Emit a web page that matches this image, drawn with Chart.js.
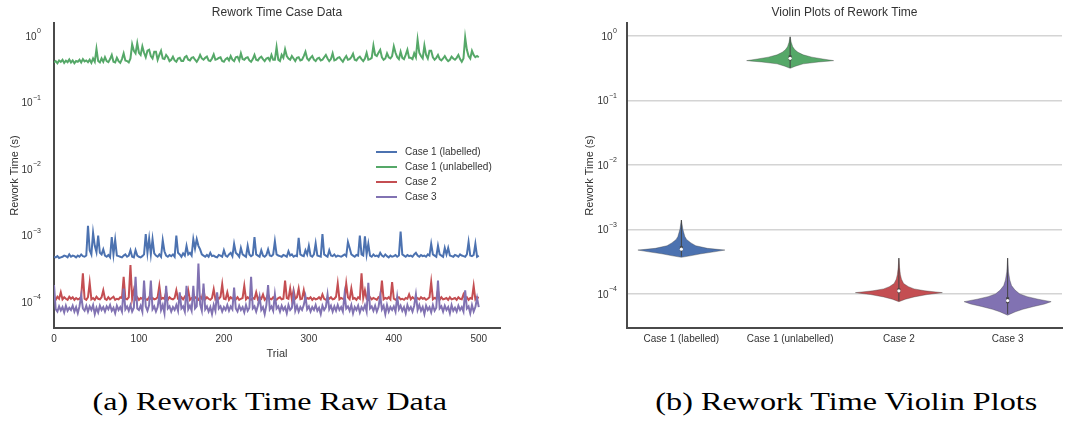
<!DOCTYPE html>
<html>
<head>
<meta charset="utf-8">
<script src="https://cdn.jsdelivr.net/npm/chart.js@4.4.1/dist/chart.umd.min.js"></script>
<style>
  html, body { margin: 0; padding: 0; background: #fff; }
  body { width: 1068px; height: 421px; position: relative; overflow: hidden; font-family: "Liberation Sans", Arial, sans-serif; }
  #leftBox { position: absolute; left: 0; top: 0; width: 530px; height: 370px; }
  #rightBox { position: absolute; left: 530px; top: 0; width: 538px; height: 370px; }
  #legend { position: absolute; left: 376px; top: 144px; font-size: 10px; color: #333; }
  .legend-row { height: 15px; display: flex; align-items: center; white-space: nowrap; }
  .legend-line { width: 21px; height: 2px; margin-right: 8px; }
  .caption { position: absolute; top: 389px; width: 600px; text-align: center; font-family: "Liberation Serif", "Times New Roman", serif; font-size: 26px; line-height: 26px; color: #000; }
  .caption span { display: inline-block; white-space: nowrap; }
</style>
</head>
<body>
<div id="leftBox"><canvas id="leftChart" width="530" height="370"></canvas></div>
<div id="rightBox"><canvas id="rightChart" width="538" height="370"></canvas></div>
<div id="legend"></div>
<div class="caption" id="capA" style="left:-30px"><span>(a) Rework Time Raw Data</span></div>
<div class="caption" id="capB" style="left:546px"><span>(b) Rework Time Violin Plots</span></div>

<script>
// ── DATA ──
const seriesNames = ["Case 1 (labelled)", "Case 1 (unlabelled)", "Case 2", "Case 3"];
const seriesColors = ["#4c72b0", "#55a868", "#c44e52", "#8172b2"];
const trialStep = 2; // one sample read every 2 trials (0..500)

// Case 1 (labelled), microseconds
const case1LabelledUs = [
    480,470,490,460,470,480,500,490,470,520,
    480,500,490,470,500,480,520,490,480,500,
    1400,600,520,1100,700,560,1000,550,520,620,
    500,480,510,470,950,520,860,500,490,480,
    470,500,520,480,500,600,480,470,600,500,
    480,470,490,520,1050,550,900,520,880,540,
    500,480,520,480,850,580,500,480,510,490,
    520,480,1000,550,520,480,540,500,700,520,
    550,500,880,640,880,700,620,520,500,480,
    510,480,550,490,500,480,470,510,500,480,
    600,500,480,520,550,490,750,550,520,480,
    650,520,500,480,700,520,490,510,950,520,
    500,480,600,500,480,510,620,500,490,520,
    820,520,500,490,480,510,500,480,580,500,
    520,480,500,490,920,520,500,490,600,520,
    700,500,480,520,760,500,490,480,1050,520,
    500,480,600,500,490,520,480,500,490,480,
    500,520,490,800,650,520,500,480,510,500,
    1000,520,500,970,520,750,500,480,520,490,
    500,480,550,500,480,520,490,470,500,480,
    490,510,480,500,1150,520,500,480,510,490,
    500,480,520,550,500,480,510,490,500,480,
    520,500,750,520,500,480,700,520,500,480,
    650,520,650,500,490,480,510,500,480,520,
    500,490,480,520,800,500,490,510,750,480,
    500
];
// Case 1 (unlabelled), milliseconds
const case1UnlabelledMs = [
    400,420,390,430,410,440,395,425,405,445,
    400,430,390,420,410,440,400,450,415,430,
    405,440,395,460,410,640,420,400,460,410,
    480,420,405,450,520,410,400,470,420,395,
    450,550,430,420,400,460,750,600,550,780,
    560,520,700,560,480,600,620,500,460,580,
    580,440,520,600,460,450,520,480,420,440,
    490,430,410,460,470,420,420,480,500,440,
    430,470,480,440,410,450,520,460,440,470,
    490,430,420,460,530,440,450,470,480,420,
    410,450,470,430,500,440,420,480,490,430,
    550,450,440,470,480,430,410,450,520,440,
    430,470,490,450,420,460,470,430,520,440,
    440,680,440,420,520,470,630,500,460,440,
    500,460,420,470,480,430,440,500,580,460,
    430,470,500,440,420,460,470,430,440,480,
    520,460,420,450,550,430,440,470,480,440,
    410,460,500,440,450,480,540,440,430,470,
    490,450,420,460,560,440,450,470,720,520,
    500,560,620,480,440,460,550,480,460,500,
    700,560,480,450,580,470,450,520,620,470,
    470,450,550,480,880,560,500,460,720,520,
    460,600,600,480,440,470,520,450,430,460,
    500,450,420,440,490,460,440,470,520,450,
    410,460,950,620,500,460,600,520,480,500,
    480
];
// Case 2, microseconds
const case2Us = [
    115,108,120,112,140,110,118,112,108,120,
    112,118,108,115,110,112,120,270,112,108,
    118,195,110,115,108,120,112,110,118,150,
    112,108,118,110,115,120,108,112,110,118,
    115,240,112,110,118,360,112,150,110,118,
    108,115,112,120,110,108,118,112,115,110,
    112,118,175,110,115,112,140,108,118,112,
    110,115,150,112,108,118,110,120,112,150,
    108,115,110,118,112,108,120,112,150,110,
    118,112,108,115,155,110,118,112,120,185,
    112,110,140,108,118,112,115,110,118,108,
    112,115,175,110,118,112,108,115,112,140,
    110,118,112,130,108,115,130,112,110,118,
    112,108,115,118,110,112,210,115,112,160,
    110,150,112,118,160,110,112,150,108,115,
    112,118,108,115,110,112,118,110,130,112,
    108,115,112,118,110,112,120,190,110,115,
    112,108,190,118,110,160,112,115,108,118,
    112,270,115,150,112,108,118,110,115,112,
    108,118,112,210,110,115,112,118,110,200,
    112,108,115,118,110,112,108,115,112,130,
    110,118,112,108,115,110,118,112,115,108,
    112,118,200,110,115,112,150,108,118,110,
    112,115,108,118,110,112,115,108,118,112,
    110,130,112,118,108,115,112,175,110,118,
    115
];
// Case 3, microseconds
const case3Us = [
    180,78,72,86,75,84,70,88,74,82,
    76,88,72,84,68,86,125,80,74,88,
    72,86,76,90,66,82,70,88,76,84,
    72,86,78,90,74,82,68,88,76,84,
    72,160,78,86,74,90,72,82,240,80,
    76,88,72,210,86,74,90,210,78,86,
    72,84,125,76,90,68,175,80,86,72,
    84,76,90,74,140,80,86,72,175,78,
    88,74,175,80,86,380,92,74,190,78,
    86,72,84,66,90,74,140,80,86,72,
    84,76,90,74,86,78,165,80,72,88,
    76,84,70,90,74,82,240,80,86,72,
    88,120,76,84,66,90,180,78,86,74,
    130,80,86,72,88,76,84,68,90,76,
    82,130,74,88,72,84,76,90,120,78,
    86,72,84,76,90,74,82,66,88,76,
    84,130,78,88,72,86,74,90,76,84,
    72,130,80,86,74,90,68,84,76,88,
    70,84,76,90,72,195,80,86,74,88,
    72,84,125,78,88,66,90,72,84,76,
    86,72,120,78,88,74,84,68,90,76,
    84,72,88,130,76,90,74,84,66,88,
    76,84,70,90,74,82,210,80,86,72,
    88,76,84,68,90,74,82,72,88,76,
    84,72,150,80,86,68,90,72,84,115,
    84
];

const decadeTicks = [1e-4, 1e-3, 1e-2, 1e-1, 1];
const decadeExps = ["\u22124", "\u22123", "\u22122", "\u22121", "0"];

// Violin outlines: [value (s), half width as share of max]
const violinProfiles = [
    [[3.7e-4,0],[3.9e-4,0.2],[4.2e-4,0.45],[4.5e-4,0.75],[4.8e-4,1.0],[5.1e-4,0.6],[5.6e-4,0.33],
     [6.2e-4,0.22],[7.0e-4,0.12],[7.8e-4,0.08],[1.0e-3,0.035],[1.4e-3,0]],
    [[0.315,0],[0.34,0.12],[0.37,0.3],[0.395,0.65],[0.415,1.0],[0.44,0.75],[0.47,0.5],[0.51,0.3],
     [0.56,0.18],[0.61,0.11],[0.68,0.06],[0.8,0.025],[0.97,0]],
    [[7.6e-5,0],[8.3e-5,0.15],[9.0e-5,0.35],[9.8e-5,0.65],[1.05e-4,1.0],[1.12e-4,0.6],[1.2e-4,0.35],
     [1.3e-4,0.22],[1.45e-4,0.11],[1.7e-4,0.06],[2.0e-4,0.035],[2.6e-4,0.015],[3.6e-4,0]],
    [[4.7e-5,0],[5.3e-5,0.18],[5.8e-5,0.35],[6.4e-5,0.6],[7.0e-5,0.85],[7.6e-5,1.0],[8.3e-5,0.7],
     [9.1e-5,0.45],[1.0e-4,0.28],[1.15e-4,0.17],[1.35e-4,0.09],[1.65e-4,0.05],[2.2e-4,0.02],[3.6e-4,0]]
];
const boxQ1 = [4.7e-4, 0.42, 1.05e-4, 7.2e-5];
const boxMedian = [4.95e-4, 0.45, 1.12e-4, 7.9e-5];
const boxQ3 = [5.5e-4, 0.50, 1.22e-4, 8.9e-5];
const whiskerLo = [3.8e-4, 0.32, 7.8e-5, 4.9e-5];
const whiskerHi = [1.4e-3, 0.97, 3.6e-4, 3.6e-4];

// ── STYLE ──
const textColor = "#333";
const spineColor = "#4a4a4a";
const sansFont = "'Liberation Sans', Arial, sans-serif";
Chart.defaults.font.family = sansFont;
Chart.defaults.color = textColor;

function toPoints(values, scale) {
    return values.map((v, i) => ({ x: i * trialStep, y: v * scale }));
}

const rawSeries = [
    toPoints(case1LabelledUs, 1e-6),
    toPoints(case1UnlabelledMs, 1e-3),
    toPoints(case2Us, 1e-6),
    toPoints(case3Us, 1e-6)
];

// "10" with a raised exponent, like matplotlib's log tick labels
const decadeLabelPlugin = {
    id: "decadeLabels",
    afterDraw(chart, args, opts) {
        const { ctx } = chart;
        const y = chart.scales.y;
        const right = chart.chartArea.left - opts.pad;
        ctx.save();
        ctx.fillStyle = textColor;
        ctx.textBaseline = "middle";
        ctx.textAlign = "right";
        decadeTicks.forEach((v, i) => {
            const py = y.getPixelForValue(v);
            ctx.font = `7px ${sansFont}`;
            const ew = ctx.measureText(decadeExps[i]).width;
            ctx.fillText(decadeExps[i], right, py - 4.5);
            ctx.font = `10px ${sansFont}`;
            ctx.fillText("10", right - ew - 0.5, py + 1);
        });
        ctx.restore();
    }
};

function logAxis(min, max, width, titlePad) {
    return {
        type: "logarithmic",
        min: min,
        max: max,
        afterBuildTicks: s => { s.ticks = decadeTicks.map(v => ({ value: v })); },
        afterFit: s => { s.width = width; },
        ticks: { display: false },
        grid: { display: false, drawTicks: false },
        border: { display: true, color: spineColor, width: 2 },
        title: { display: true, text: "Rework Time (s)", font: { size: 11 }, color: textColor, padding: { top: titlePad, bottom: 0 } }
    };
}

function titleOpts(text) {
    return {
        display: true, text: text, fullSize: false, color: textColor,
        font: { size: 12, weight: "normal" },
        padding: { top: 5.5, bottom: 3.1 }
    };
}

// ── LEFT: RAW DATA ──
new Chart(document.getElementById("leftChart"), {
    type: "line",
    data: {
        datasets: seriesNames.map((name, i) => ({
            label: name,
            data: rawSeries[i],
            borderColor: seriesColors[i],
            borderWidth: 2,
            pointRadius: 0,
            tension: 0,
            order: seriesNames.length - 1 - i
        }))
    },
    options: {
        responsive: false,
        animation: false,
        layout: { padding: { left: 0, right: 30, top: 0, bottom: 0 } },
        plugins: {
            legend: { display: false },
            tooltip: { enabled: false },
            title: titleOpts("Rework Time Case Data"),
            decadeLabels: { pad: 13 }
        },
        scales: {
            x: {
                type: "linear",
                min: 0,
                max: 525,
                afterFit: s => { s.height = 42; },
                ticks: { stepSize: 100, includeBounds: false, padding: 5, font: { size: 10 }, color: textColor },
                grid: { display: false, drawTicks: false },
                border: { display: true, color: spineColor, width: 2 },
                title: { display: true, text: "Trial", font: { size: 11 }, color: textColor, padding: { top: 0, bottom: 9.4 } }
            },
            y: logAxis(4.07e-5, 1.57, 54, 8.4)
        }
    },
    plugins: [decadeLabelPlugin]
});

// legend box inside panel (a)
const legendEl = document.getElementById("legend");
seriesNames.forEach((name, i) => {
    const row = document.createElement("div");
    row.className = "legend-row";
    row.innerHTML = `<div class="legend-line" style="background:${seriesColors[i]}"></div><div>${name}</div>`;
    legendEl.appendChild(row);
});

// ── RIGHT: VIOLINS ──
const violinHalf = 0.4;
const violinPlugin = {
    id: "violins",
    beforeDatasetsDraw(chart) {
        const { ctx, scales: { x, y } } = chart;
        const band = (x.right - x.left) / seriesNames.length;
        ctx.save();
        violinProfiles.forEach((prof, i) => {
            const cx = x.getPixelForValue(i);
            const w = band * violinHalf;
            ctx.beginPath();
            prof.forEach(([v, h], k) => {
                const px = cx + h * w, py = y.getPixelForValue(v);
                if (k === 0) ctx.moveTo(px, py); else ctx.lineTo(px, py);
            });
            for (let k = prof.length - 1; k >= 0; k--) {
                ctx.lineTo(cx - prof[k][1] * w, y.getPixelForValue(prof[k][0]));
            }
            ctx.closePath();
            ctx.fillStyle = seriesColors[i];
            ctx.fill();
            ctx.strokeStyle = "rgba(60,60,60,0.45)";
            ctx.lineWidth = 0.8;
            ctx.stroke();

            // whisker + box
            ctx.strokeStyle = "#444";
            ctx.lineWidth = 1;
            ctx.beginPath();
            ctx.moveTo(cx, y.getPixelForValue(whiskerLo[i]));
            ctx.lineTo(cx, y.getPixelForValue(whiskerHi[i]));
            ctx.stroke();
            ctx.lineWidth = 3;
            ctx.beginPath();
            ctx.moveTo(cx, y.getPixelForValue(boxQ1[i]));
            ctx.lineTo(cx, y.getPixelForValue(boxQ3[i]));
            ctx.stroke();
        });
        ctx.restore();
    }
};

const rightY = logAxis(2.97e-5, 1.59, 97, 53.4);
rightY.grid = { display: true, drawTicks: false, color: "#d4d4d4", lineWidth: 1.5 };

new Chart(document.getElementById("rightChart"), {
    type: "line",
    data: {
        labels: seriesNames,
        datasets: [{
            label: "median",
            data: boxMedian,
            showLine: false,
            pointRadius: 1.6,
            pointBackgroundColor: "#fff",
            pointBorderWidth: 0
        }]
    },
    options: {
        responsive: false,
        animation: false,
        layout: { padding: { left: 0, right: 6, top: 0, bottom: 0 } },
        plugins: {
            legend: { display: false },
            tooltip: { enabled: false },
            title: titleOpts("Violin Plots of Rework Time"),
            decadeLabels: { pad: 10 }
        },
        scales: {
            x: {
                type: "category",
                offset: true,
                afterFit: s => { s.height = 42; },
                ticks: { padding: 5, font: { size: 10 }, color: textColor, maxRotation: 0, autoSkip: false },
                grid: { display: false, drawTicks: false, offset: true },
                border: { display: true, color: spineColor, width: 2 }
            },
            y: rightY
        }
    },
    plugins: [violinPlugin, decadeLabelPlugin]
});

// ── CAPTIONS ── stretch serif text to the reference widths
const captionWidths = { capA: 355, capB: 383 };
const mctx = document.createElement("canvas").getContext("2d");
mctx.font = "26px 'Liberation Serif'";
Object.keys(captionWidths).forEach(id => {
    const span = document.querySelector(`#${id} span`);
    const w = mctx.measureText(span.textContent).width;
    span.style.transform = `scaleX(${captionWidths[id] / w})`;
});
</script>
</body>
</html>
